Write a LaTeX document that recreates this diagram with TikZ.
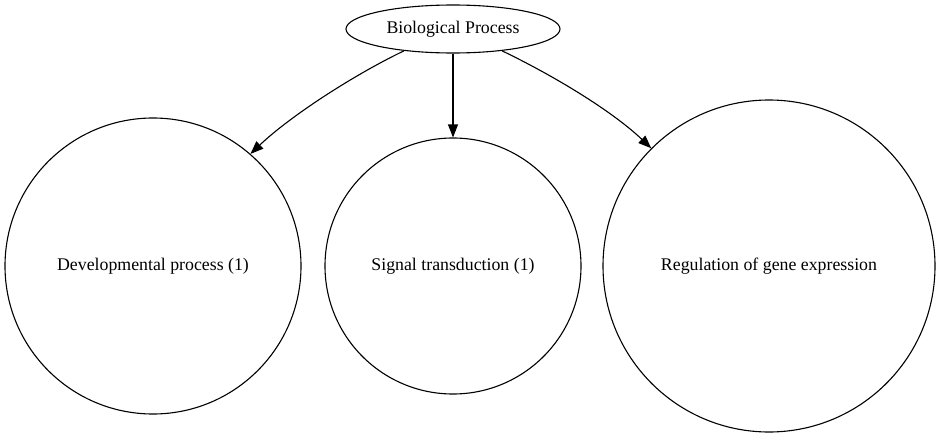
\documentclass[tikz,border=0pt]{standalone}
\usepackage{fontspec}
\setmainfont{Liberation Serif}
\usetikzlibrary{arrows.meta,shapes.geometric}

\begin{document}
\begin{tikzpicture}[x=1pt,y=-1pt,>={Triangle[length=13pt,width=10pt]},line width=1.1pt,
  proc/.style={draw,ellipse,inner sep=0pt,minimum width=214pt,minimum height=48pt},
  term/.style={draw,circle,inner sep=0pt},
  every node/.style={font=\fontsize{17.8}{21}\selectfont}]

\useasboundingbox (0,0) rectangle (940,436);

\node[proc] (bp) at (453,29) {Biological Process};

\node[term,minimum size=296pt] (dev) at (153,266) {Developmental process (1)};
\node[term,minimum size=256pt] (sig) at (453,266) {Signal transduction (1)};
\node[term,minimum size=332pt] (reg) at (769,266) {Regulation of gene expression};

\draw[->] (bp.204) .. controls +(-50,24) and +(40,-38) .. (dev.49);
\draw[->] (bp.south) -- (sig.north);
\draw[->] (bp.336) .. controls +(50,24) and +(-40,-38) .. (reg.135);

\end{tikzpicture}
\end{document}
